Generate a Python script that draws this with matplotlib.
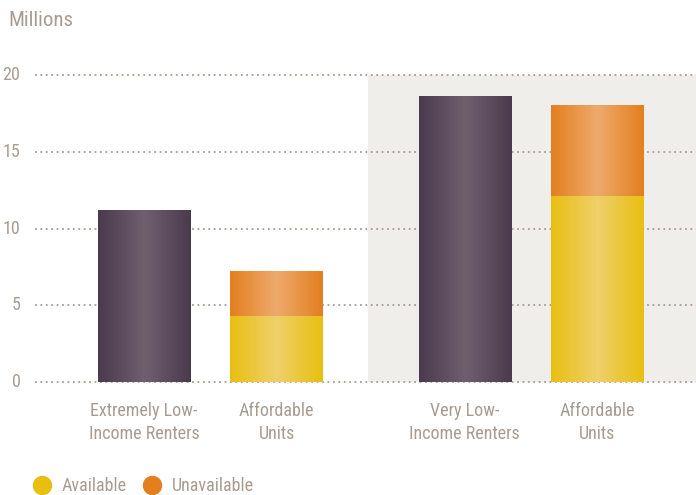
import numpy as np
import matplotlib
matplotlib.use("Agg")
import matplotlib.pyplot as plt
from matplotlib import font_manager
from matplotlib.colors import LinearSegmentedColormap
from matplotlib.lines import Line2D

names = sorted({f.name for f in font_manager.fontManager.ttflist})
fam = None
for cand in ["Liberation Sans Narrow", "Roboto Condensed", "Open Sans Condensed", "Noto Sans Condensed"]:
    if cand in names:
        fam = cand
        break
if fam is None:
    fam = "DejaVu Sans"
plt.rcParams['font.family'] = [fam, 'DejaVu Sans']

# ---- data ----
categories = ["Extremely Low-\nIncome Renters", "Affordable\nUnits",
              "Very Low-\nIncome Renters", "Affordable\nUnits"]
renters = [11.2, None, 18.6, None]
available = [None, 4.3, None, 12.1]
unavailable = [None, 2.9, None, 5.9]
yticks = [0, 5, 10, 15, 20]
legend_labels = ["Available", "Unavailable"]

# ---- layout ----
xpos = [0, 1, 2.42, 3.42]
width = 0.695
txt = "#a89c92"
purple = ("#4b3a4d", "#6f5f6f")
yellow = ("#e8bf10", "#efd06a")
orange = ("#e37f1f", "#eeaa6c")

fig = plt.figure(figsize=(6.96, 4.95), dpi=100)
ax = fig.add_axes([35/696, (495-382)/495, (696-35)/696, (382-75)/495])
ax.set_xlim(-0.823, 4.166)
ax.set_ylim(0, 20)
for s in ax.spines.values():
    s.set_visible(False)
ax.set_xticks([])
ax.set_yticks([])

# shaded region
ax.axvspan(1.691, 4.166, ymin=0, ymax=1, color="#efeeeb", zorder=0, lw=0)

for y in yticks:
    ax.axhline(y, color=txt, lw=1.3, ls=(0, (1, 2)), zorder=1, clip_on=False)
    ax.text(-0.823 - 0.11, y, str(y), ha="right", va="center", color=txt, fontsize=13,
            transform=ax.transData)


def grad_bar(x, y0, y1, cols):
    cmap = LinearSegmentedColormap.from_list("g", [cols[0], cols[1], cols[0]])
    g = np.linspace(0, 1, 256).reshape(1, -1)
    ax.imshow(g, cmap=cmap, extent=[x - width/2, x + width/2, y0, y1],
              aspect="auto", zorder=2, interpolation="bicubic")


for i, x in enumerate(xpos):
    if renters[i] is not None:
        grad_bar(x, 0, renters[i], purple)
    if available[i] is not None:
        grad_bar(x, 0, available[i], yellow)
        grad_bar(x, available[i], available[i] + unavailable[i], orange)
    ax.text(x, -1.3, categories[i], ha="center", va="top", color=txt, fontsize=13,
            linespacing=1.35)

ax.set_xlim(-0.823, 4.166)
ax.set_ylim(0, 20)

fig.text(8/696, 1 - 20/495, "Millions", ha="left", va="center", color=txt, fontsize=15)

# legend
for cx, tx, col, lab in [(42, 62, yellow[0], legend_labels[0]), (152, 172, orange[0], legend_labels[1])]:
    fig.add_artist(Line2D([cx/696], [1 - 485/495], marker="o", markersize=13, color=col,
                          transform=fig.transFigure, ls=""))
    fig.text(tx/696, 1 - 486/495, lab, ha="left", va="center", color=txt, fontsize=13)

fig.savefig("out.png", dpi=100)
